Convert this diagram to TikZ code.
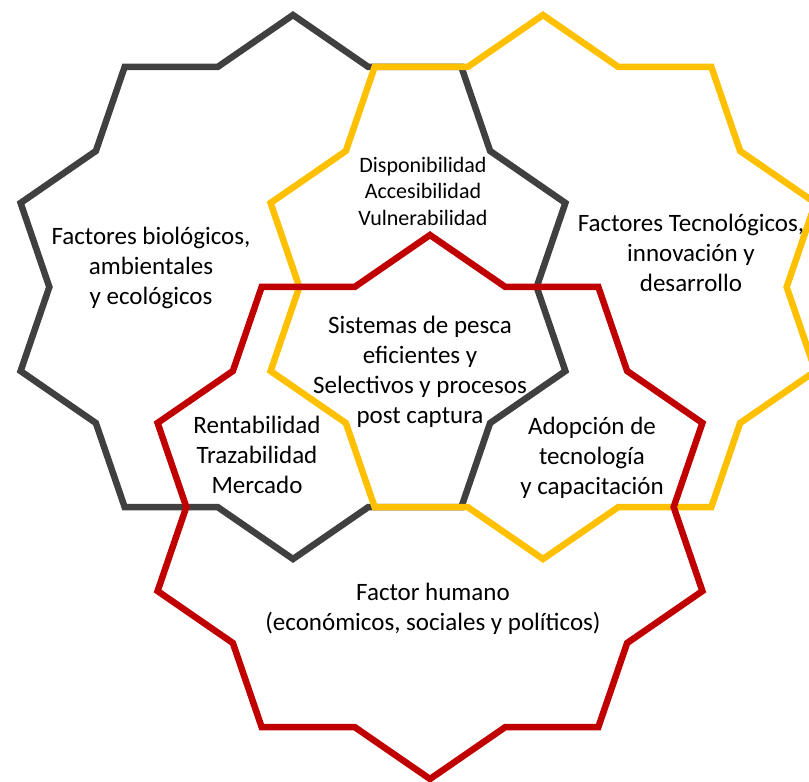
\documentclass[tikz,border=0pt]{standalone}
\usepackage{fontspec}
\setmainfont{Carlito}
\definecolor{stargray}{HTML}{404040}
\definecolor{staryellow}{HTML}{FFC000}
\definecolor{starred}{HTML}{C00000}
\begin{document}
\begin{tikzpicture}[x=1pt,y=-1pt,
  starline/.style={line width=6.5pt, line join=miter},
  lbl/.style={align=center, font=\fontsize{25}{30}\selectfont, inner sep=0pt},
  lblsmall/.style={align=center, font=\fontsize{22}{26.5}\selectfont, inner sep=0pt}]
\clip (0,0) rectangle (809,782);
% gray star
\draw[starline, stargray] plot[samples at={0,...,19}]
  ({293+1.053*(mod(\x,2)==0 ? 272 : 231.4)*cos(90+18*\x)},
   {287-(mod(\x,2)==0 ? 272 : 231.4)*sin(90+18*\x)}) -- cycle;
% yellow star
\draw[starline, staryellow] plot[samples at={0,...,19}]
  ({543+1.053*(mod(\x,2)==0 ? 272 : 231.4)*cos(90+18*\x)},
   {287-(mod(\x,2)==0 ? 272 : 231.4)*sin(90+18*\x)}) -- cycle;
% red star
\draw[starline, starred] plot[samples at={0,...,19}]
  ({430+1.053*(mod(\x,2)==0 ? 272 : 231.4)*cos(90+18*\x)},
   {507-(mod(\x,2)==0 ? 272 : 231.4)*sin(90+18*\x)}) -- cycle;

\node[lbl] (bio) at (151,268) {Factores biológicos,\\ambientales\\y ecológicos};
\node[lblsmall] (disp) at (423,191) {Disponibilidad\\Accesibilidad\\Vulnerabilidad};
\node[lbl] (tec) at (691,253) {Factores Tecnológicos,\\innovación y\\desarrollo};
\node[lbl] (sis) at (420,372) {Sistemas de pesca\\eficientes y\\Selectivos y procesos\\post captura};
\node[lbl] (ren) at (257,455) {Rentabilidad\\Trazabilidad\\Mercado};
\node[lbl] (ado) at (592,458) {Adopción de\\tecnología\\y capacitación};
\node[lbl] (hum) at (433,609) {Factor humano\\(económicos, sociales y políticos)};
\end{tikzpicture}
\end{document}
